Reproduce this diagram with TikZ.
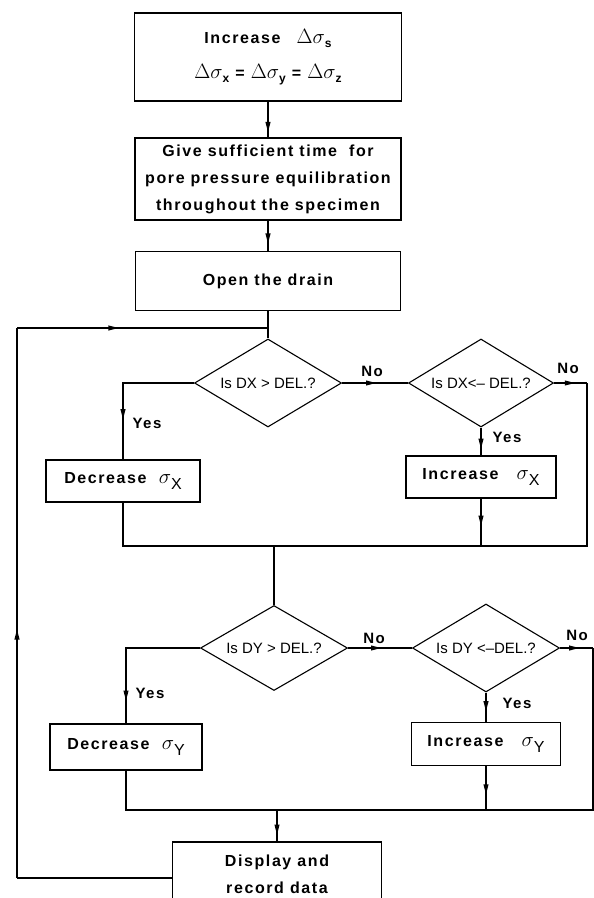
\documentclass[tikz,border=0pt]{standalone}
\usepackage{fontspec}
\setmainfont{Liberation Sans}
\newfontfamily\boxfont{Liberation Sans}[LetterSpace=10]
\usetikzlibrary{shapes.geometric,arrows.meta,decorations.markings}

\newcommand{\dsig}[1]{{\fontsize{21}{21}\selectfont$\Delta\sigma$}\raisebox{-0.55ex}{\fontsize{12}{12}\selectfont #1}}
\newcommand{\sigsub}[1]{{\fontsize{20}{20}\selectfont$\sigma$}\raisebox{-0.8ex}{\mdseries #1}}

\begin{document}
\begin{tikzpicture}[x=1pt, y=-1pt,
    flow/.style={line width=1.1pt},
    midarr/.style={postaction={decorate}, decoration={markings, mark=at position #1 with {\fill (1pt,0pt) -- (-9pt,2.6pt) -- (-9pt,-2.6pt) -- cycle;}}},
    blk/.style={draw, line width=1.1pt, align=center, inner sep=0pt, font={\boxfont\bfseries\fontsize{16}{27}\selectfont}},
    dia/.style={draw, diamond, aspect=1.67, inner sep=0pt, line width=1.1pt, minimum width=147pt, minimum height=88pt, font={\fontsize{15}{18}\selectfont}},
    lbl/.style={font={\boxfont\bfseries\fontsize{15}{18}\selectfont}}]

    \useasboundingbox (0,0) rectangle (594,898);
    \clip (0,0) rectangle (594,898);

    % boxes down the middle
    \node[blk, minimum width=267pt, minimum height=88pt] (inc) at (268,57) {Increase\quad\dsig{s}\\[8pt]\dsig{x} = \dsig{y} = \dsig{z}};
    \node[blk, minimum width=266pt, minimum height=82pt] (give) at (268,179) {Give sufficient time\ \ for\\pore pressure equilibration\\throughout the specimen};
    \node[blk, minimum width=265pt, minimum height=59pt] (drain) at (268,281) {Open the drain};

    % DX checks
    \node[dia] (d1) at (268,383) {Is DX > DEL.?};
    \node[dia, minimum width=145pt] (d2) at (481,383) {Is DX<– DEL.?};
    \node[blk, minimum width=154pt, minimum height=42pt] (decx) at (123,481) {Decrease\ \ \sigsub{X}};
    \node[blk, minimum width=150pt, minimum height=42pt] (incx) at (481,477) {Increase\ \ \ \sigsub{X}};

    % DY checks
    \node[dia, minimum height=85pt] (d3) at (274,648) {Is DY > DEL.?};
    \node[dia] (d4) at (486,648) {Is DY <–DEL.?};
    \node[blk, minimum width=152pt, minimum height=46pt] (decy) at (126,747) {Decrease\ \ \sigsub{Y}};
    \node[blk, minimum width=149pt, minimum height=43pt] (incy) at (486,744) {Increase\ \ \ \sigsub{Y}};

    \node[blk, minimum width=209pt, minimum height=64pt] (disp) at (277,874) {Display and\\record data};

    \coordinate (jn) at (268,328);
    \coordinate (lt) at (17,328);
    \coordinate (lb) at (17,878);
    \coordinate (nx) at (587,383);
    \coordinate (m1) at (587,546);
    \coordinate (ny) at (593,648);
    \coordinate (m2) at (593,810);

    \draw[flow, midarr=0.82] (inc) -- (give);
    \draw[flow, midarr=0.72] (give) -- (drain);
    \draw[flow] (drain) -- (d1);

    % loop back
    \draw[flow] (lb -| disp.west) -- (lb);
    \draw[flow, midarr=0.45] (lb) -- (lt);
    \draw[flow, midarr=0.4] (lt) -- (jn);

    \draw[flow, midarr=0.72] (d1.west) -| (decx.north);
    \draw[flow, midarr=0.5] (d1.east) -- (d2.west);
    \draw[flow, midarr=0.6] (d2.east) -- (nx);
    \draw[flow, midarr=0.72] (d2.south) -- (incx.north);
    \draw[flow, midarr=0.55] (incx.south) -- (incx.south |- m1);
    \draw[flow] (decx.south) |- (m1) -- (nx);

    \draw[flow] (d3.north |- m1) -- (d3.north);
    \draw[flow, midarr=0.84] (d3.west) -| (decy.north);
    \draw[flow, midarr=0.5] (d3.east) -- (d4.west);
    \draw[flow, midarr=0.55] (d4.east) -- (ny);
    \draw[flow, midarr=0.6] (d4.south) -- (incy.north);
    \draw[flow, midarr=0.62] (incy.south) -- (incy.south |- m2);
    \draw[flow] (decy.south) |- (m2) -- (ny);
    \draw[flow, midarr=0.75] (disp.north |- m2) -- (disp.north);

    \node[lbl] (yes1) at (147,423) {Yes};
    \node[lbl] (no1) at (372,371) {No};
    \node[lbl] (yes2) at (507,437) {Yes};
    \node[lbl] (no2) at (568,368) {No};
    \node[lbl] (yes3) at (150,693) {Yes};
    \node[lbl] (no3) at (374,638) {No};
    \node[lbl] (yes4) at (517,703) {Yes};
    \node[lbl] (no4) at (577,635) {No};
\end{tikzpicture}
\end{document}
